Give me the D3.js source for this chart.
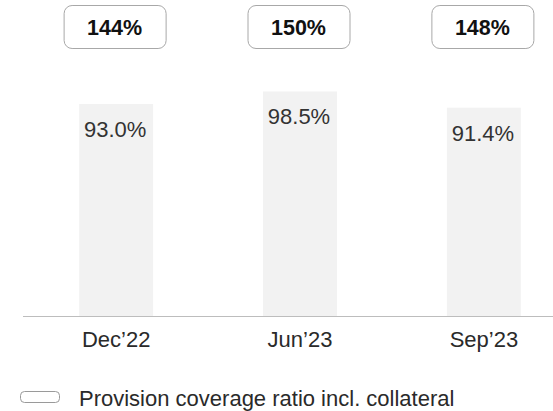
<!DOCTYPE html>
<html>
<head>
<meta charset="utf-8">
<script src="https://cdn.jsdelivr.net/npm/d3@7"></script>
<style>
  html, body { margin: 0; padding: 0; background: #fff; }
  svg { display: block; font-family: "Liberation Sans", Arial, sans-serif; }
</style>
</head>
<body>
<svg id="chart" width="553" height="411"></svg>
<script>
// Periods on the x axis
const categories = ["Dec\u201922", "Jun\u201923", "Sep\u201923"];
// Provision coverage ratio (bars), %
const coverage = [93.0, 98.5, 91.4];
// Provision coverage ratio incl. collateral (boxed labels), %
const coverageInclCollateral = [144, 150, 148];
const legendLabel = "Provision coverage ratio incl. collateral";

const FONT = "\"Liberation Sans\", Arial, sans-serif";
const svg = d3.select("#chart");

const x = d3.scaleBand()
  .domain(categories)
  .range([24, 576])
  .paddingInner(0.598)
  .paddingOuter(0.3);

const y = d3.scaleLinear().domain([0, 100]).range([317, 88]);

// bars
svg.append("g").selectAll("rect")
  .data(coverage)
  .join("rect")
  .attr("x", (d, i) => x(categories[i]))
  .attr("y", d => y(d))
  .attr("width", x.bandwidth())
  .attr("height", d => y(0) - y(d))
  .attr("fill", "#f2f2f2");

// value labels inside bars
svg.append("g").selectAll("text")
  .data(coverage)
  .join("text")
  .attr("x", (d, i) => x(categories[i]) + x.bandwidth() / 2 - 1)
  .attr("y", d => y(d) + 33)
  .attr("text-anchor", "middle")
  .attr("font-size", 22)
  .attr("fill", "#333")
  .text(d => d.toFixed(1) + "%");

// baseline
svg.append("line")
  .attr("x1", 23).attr("x2", 553)
  .attr("y1", y(0) - 0.5).attr("y2", y(0) - 0.5)
  .attr("stroke", "#bdbdbd")
  .attr("stroke-width", 1);

// category axis
const xAxis = svg.append("g")
  .attr("transform", `translate(0,${y(0)})`)
  .call(d3.axisBottom(x).tickSize(0).tickPadding(0));
xAxis.select(".domain").remove();
xAxis.attr("font-family", FONT).attr("font-size", 22);
xAxis.selectAll("text")
  .attr("dy", null)
  .attr("y", 30)
  .attr("font-weight", "normal")
  .attr("fill", "#2a2a2a");

// boxed labels above bars
const boxW = 102, boxH = 43;
const boxes = svg.append("g").selectAll("g")
  .data(coverageInclCollateral)
  .join("g")
  .attr("transform", (d, i) =>
    `translate(${x(categories[i]) + x.bandwidth() / 2 - 1.5},5)`);
boxes.append("rect")
  .attr("x", -boxW / 2 + 0.5)
  .attr("y", 0.5)
  .attr("width", boxW)
  .attr("height", boxH)
  .attr("rx", 8)
  .attr("fill", "#fff")
  .attr("stroke", "#a8a8a8")
  .attr("stroke-width", 1);
boxes.append("text")
  .attr("x", 0)
  .attr("y", 30)
  .attr("text-anchor", "middle")
  .attr("font-size", 21.5)
  .attr("font-weight", "bold")
  .attr("fill", "#111")
  .text(d => d + "%");

// legend
const legend = svg.append("g");
legend.append("rect")
  .attr("x", 20.5).attr("y", 391.5)
  .attr("width", 39).attr("height", 11)
  .attr("rx", 4)
  .attr("fill", "#fff")
  .attr("stroke", "#9a9a9a");
legend.append("text")
  .attr("x", 79).attr("y", 405.5)
  .attr("font-size", 22)
  .attr("fill", "#2a2a2a")
  .text(legendLabel);
</script>
</body>
</html>
